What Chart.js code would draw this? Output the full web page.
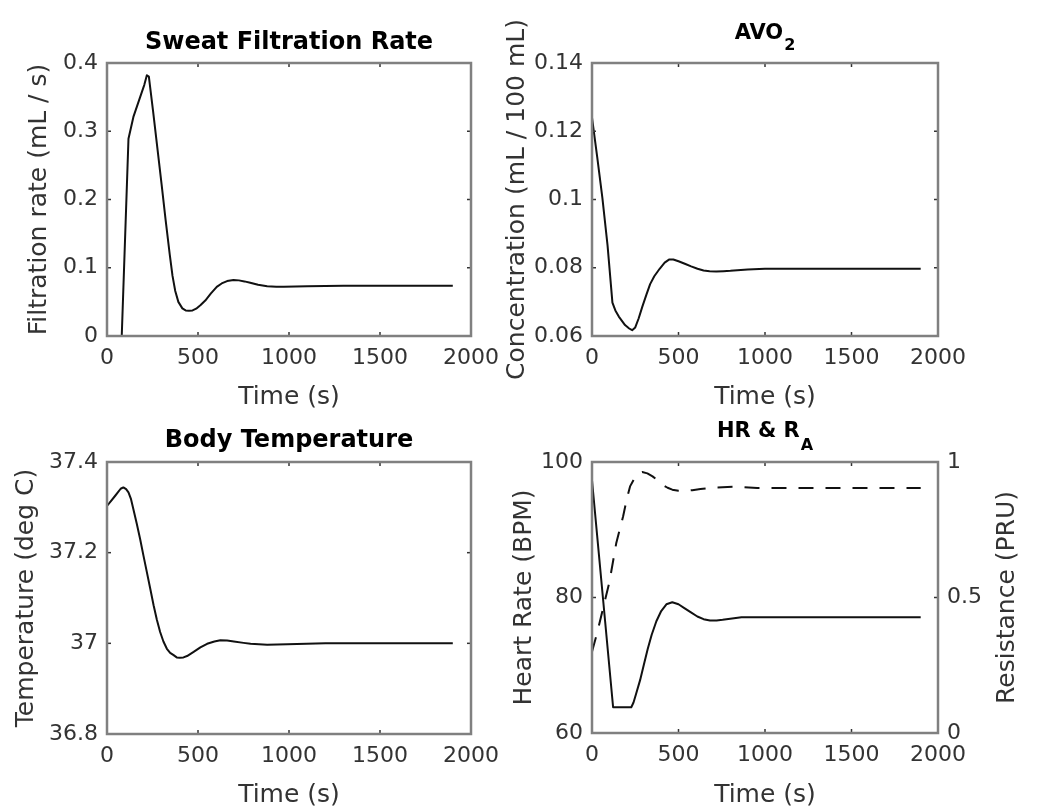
<!DOCTYPE html>
<html>
<head>
<meta charset="utf-8">
<script src="https://cdn.jsdelivr.net/npm/chart.js@4.4.1/dist/chart.umd.min.js"></script>
<style>
html, body { margin: 0; padding: 0; background: #fff; overflow: hidden; width: 1055px; height: 811px; }
canvas { position: absolute; }
</style>
</head>
<body>
<canvas id="c1" width="520" height="420" style="left:0px;top:0px"></canvas>
<canvas id="c2" width="555" height="420" style="left:500px;top:0px"></canvas>
<canvas id="c3" width="520" height="406" style="left:0px;top:405px"></canvas>
<canvas id="c4" width="555" height="406" style="left:500px;top:405px"></canvas>
<script>
// ---------- tick values ----------
const timeTicks  = [0, 500, 1000, 1500, 2000];
const sweatTicks = [0, 0.1, 0.2, 0.3, 0.4];
const avoTicks   = [0.06, 0.08, 0.1, 0.12, 0.14];
const tempTicks  = [36.8, 37, 37.2, 37.4];
const hrTicks    = [60, 80, 100];
const resTicks   = [0, 0.5, 1];

// ---------- Sweat filtration rate (mL/s) ----------
const sweatTime = [0, 81, 118, 145, 182, 205, 219, 230, 253, 276, 300, 322, 345, 360, 375, 392, 414, 432, 450, 470, 490, 513, 540, 570, 603, 630, 660, 695, 725, 755, 787, 830, 880, 930, 972, 1100, 1300, 1500, 1900];
const sweatRate = [0, 0, 0.289, 0.321, 0.350, 0.368, 0.382, 0.380, 0.330, 0.277, 0.222, 0.170, 0.119, 0.088, 0.066, 0.050, 0.0405, 0.0375, 0.037, 0.0375, 0.040, 0.045, 0.052, 0.062, 0.072, 0.077, 0.0805, 0.082, 0.0815, 0.080, 0.078, 0.075, 0.073, 0.0722, 0.0722, 0.073, 0.0735, 0.0737, 0.0737];

// ---------- AVO2 (mL / 100 mL) ----------
const avoTime = [0, 30, 60, 90, 118, 135, 155, 191, 215, 232, 250, 270, 291, 315, 336, 360, 391, 420, 445, 470, 500, 540, 573, 610, 645, 680, 718, 760, 800, 900, 1000, 1900];
const avoConc = [0.124, 0.1125, 0.1005, 0.0865, 0.0698, 0.0675, 0.0657, 0.0632, 0.0622, 0.0617, 0.0625, 0.0652, 0.0686, 0.0722, 0.0752, 0.0775, 0.0797, 0.0815, 0.0824, 0.0824, 0.0819, 0.0811, 0.0804, 0.0797, 0.0792, 0.0790, 0.0789, 0.0790, 0.0791, 0.0795, 0.0797, 0.0797];

// ---------- Body temperature (deg C) ----------
const tempTime = [0, 44, 75, 90, 105, 118, 132, 145, 163, 182, 200, 219, 238, 256, 274, 292, 310, 329, 347, 366, 383, 400, 420, 440, 476, 513, 550, 590, 623, 660, 697, 750, 789, 880, 991, 1200, 1900];
const tempVal  = [37.303, 37.325, 37.341, 37.344, 37.340, 37.333, 37.318, 37.296, 37.265, 37.230, 37.194, 37.157, 37.120, 37.084, 37.052, 37.025, 37.004, 36.988, 36.979, 36.974, 36.969, 36.968, 36.969, 36.972, 36.981, 36.991, 36.999, 37.004, 37.007, 37.006, 37.004, 37.001, 36.999, 36.997, 36.998, 37.0, 37.0];

// ---------- Heart rate (BPM) ----------
const hrTime = [0, 122, 227, 240, 255, 278, 300, 322, 345, 372, 400, 430, 464, 500, 536, 572, 609, 645, 682, 720, 755, 810, 864, 1045, 1900];
const hrVal  = [97.3, 63.8, 63.8, 64.5, 65.8, 67.8, 70.1, 72.4, 74.5, 76.5, 78.0, 79.0, 79.3, 79.0, 78.4, 77.8, 77.2, 76.8, 76.6, 76.6, 76.7, 76.9, 77.1, 77.1, 77.1];

// ---------- Resistance R_A (PRU) ----------
const resTime = [0, 32, 64, 100, 140, 180, 200, 220, 250, 270, 290, 320, 350, 380, 410, 437, 464, 500, 530, 580, 627, 718, 827, 955, 1900];
const resVal  = [0.300, 0.375, 0.460, 0.555, 0.700, 0.800, 0.860, 0.910, 0.945, 0.957, 0.963, 0.958, 0.947, 0.932, 0.915, 0.905, 0.898, 0.894, 0.893, 0.896, 0.900, 0.906, 0.909, 0.904, 0.904];

// ---------- helpers ----------
const FONT = '"DejaVu Sans", Verdana, sans-serif';
const TICK_COLOR = '#333333';
const tickFont = { family: FONT, size: 22 };
const axisFont = { family: FONT, size: 25 };

function pts(xs, ys) { return xs.map((x, i) => ({ x: x, y: ys[i] })); }

function xScale(h, titlePad) {
  return {
    type: 'linear', min: 0, max: 2000,
    grid: { display: false, drawTicks: false }, border: { display: false },
    ticks: { font: tickFont, color: TICK_COLOR, padding: 9, maxRotation: 0, autoSkip: false, callback: v => String(v) },
    afterBuildTicks: s => { s.ticks = timeTicks.map(v => ({ value: v })); },
    afterFit: s => { s.height = h; },
    title: { display: true, text: 'Time (s)', font: axisFont, color: TICK_COLOR, padding: { top: 0, bottom: titlePad } }
  };
}
function yScale(pos, min, max, tickArr, w, title, titlePad) {
  return {
    type: 'linear', position: pos, min: min, max: max,
    grid: { display: false, drawTicks: false }, border: { display: false },
    ticks: { font: tickFont, color: TICK_COLOR, padding: 9, autoSkip: false, callback: v => String(v) },
    afterBuildTicks: s => { s.ticks = tickArr.map(v => ({ value: v })); },
    afterFit: s => { s.width = w; },
    title: { display: !!title, text: title || '', font: axisFont, color: TICK_COLOR, padding: { top: titlePad, bottom: 0 } }
  };
}

const matlabPlugin = {
  id: 'matlab',
  afterDraw(chart, args, opts) {
    const ctx = chart.ctx, a = chart.chartArea;
    ctx.save();
    // inward tick marks
    ctx.strokeStyle = '#333';
    ctx.lineWidth = 1.5;
    const seg = (x1, y1, x2, y2) => { ctx.beginPath(); ctx.moveTo(x1, y1); ctx.lineTo(x2, y2); ctx.stroke(); };
    const xs = chart.scales.x;
    xs.ticks.forEach(t => { const p = xs.getPixelForValue(t.value); seg(p, a.bottom, p, a.bottom - 4); seg(p, a.top, p, a.top + 4); });
    const ys = chart.scales.y;
    ys.ticks.forEach(t => { const p = ys.getPixelForValue(t.value); seg(a.left, p, a.left + 4, p); if (!chart.scales.y1) seg(a.right, p, a.right - 4, p); });
    if (chart.scales.y1) {
      const y1 = chart.scales.y1;
      y1.ticks.forEach(t => { const p = y1.getPixelForValue(t.value); seg(a.right, p, a.right - 4, p); });
    }
    // box
    ctx.strokeStyle = '#808080';
    ctx.lineWidth = 2.5;
    ctx.strokeRect(a.left, a.top, a.right - a.left, a.bottom - a.top);
    // title with optional subscript
    const t = opts.title;
    if (t) {
      ctx.fillStyle = '#000';
      ctx.textBaseline = 'alphabetic';
      ctx.textAlign = 'left';
      ctx.font = 'bold ' + t.size + 'px ' + FONT;
      const w1 = ctx.measureText(t.text).width;
      let w2 = 0;
      if (t.sub) { ctx.font = 'bold ' + t.subSize + 'px ' + FONT; w2 = ctx.measureText(t.sub).width + 1; }
      const x0 = (a.left + a.right) / 2 - (w1 + w2) / 2;
      ctx.font = 'bold ' + t.size + 'px ' + FONT;
      ctx.fillText(t.text, x0, t.base);
      if (t.sub) { ctx.font = 'bold ' + t.subSize + 'px ' + FONT; ctx.fillText(t.sub, x0 + w1 + 1, t.subBase); }
    }
    // right-hand axis title, reading bottom to top
    const r = opts.rightTitle;
    if (r) {
      ctx.fillStyle = TICK_COLOR;
      ctx.font = axisFont.size + 'px ' + FONT;
      ctx.textAlign = 'center';
      ctx.textBaseline = 'middle';
      ctx.translate(r.x, (a.top + a.bottom) / 2);
      ctx.rotate(-Math.PI / 2);
      ctx.fillText(r.text, 0, 0);
    }
    ctx.restore();
  }
};

function lineDs(data, dashed, axis) {
  return {
    data: data, borderColor: '#111', borderWidth: 2, pointRadius: 0, fill: false,
    tension: 0, borderJoinStyle: 'round', borderDash: dashed ? [15, 12] : [], yAxisID: axis || 'y'
  };
}

function makeChart(id, datasets, scales, padding, pluginOpts) {
  return new Chart(document.getElementById(id), {
    type: 'line',
    data: { datasets: datasets },
    options: {
      responsive: false, animation: false, devicePixelRatio: 1,
      layout: { padding: padding },
      scales: scales,
      plugins: { legend: { display: false }, tooltip: { enabled: false }, title: { display: false }, matlab: pluginOpts }
    },
    plugins: [matlabPlugin]
  });
}

// Panel 1: Sweat Filtration Rate
makeChart('c1',
  [lineDs(pts(sweatTime, sweatRate))],
  { x: xScale(84, 8), y: yScale('left', 0, 0.4, sweatTicks, 107, 'Filtration rate (mL / s)', 24) },
  { top: 63, left: 0, right: 49, bottom: 0 },
  { title: { text: 'Sweat Filtration Rate', size: 24, base: 49 } }
);

// Panel 2: AVO2
makeChart('c2',
  [lineDs(pts(avoTime, avoConc))],
  { x: xScale(84, 8), y: yScale('left', 0.06, 0.14, avoTicks, 92, 'Concentration (mL / 100 mL)', 2) },
  { top: 63, left: 0, right: 117, bottom: 0 },
  { title: { text: 'AVO', sub: '2', size: 21, subSize: 16, base: 39, subBase: 50 } }
);

// Panel 3: Body Temperature
makeChart('c3',
  [lineDs(pts(tempTime, tempVal))],
  { x: xScale(77, 1), y: yScale('left', 36.8, 37.4, tempTicks, 107, 'Temperature (deg C)', 11) },
  { top: 57, left: 0, right: 49, bottom: 0 },
  { title: { text: 'Body Temperature', size: 24, base: 42 } }
);

// Panel 4: HR & R_A
makeChart('c4',
  [lineDs(pts(hrTime, hrVal), false, 'y'), lineDs(pts(resTime, resVal), true, 'y1')],
  { x: xScale(78, 1),
    y: yScale('left', 60, 100, hrTicks, 92, 'Heart Rate (BPM)', 9),
    y1: yScale('right', 0, 1, resTicks, 117, '', 0) },
  { top: 57, left: 0, right: 0, bottom: 0 },
  { title: { text: 'HR & R', sub: 'A', size: 21, subSize: 16, base: 32, subBase: 45 },
    rightTitle: { text: 'Resistance (PRU)', x: 507 } }
);
</script>
</body>
</html>
